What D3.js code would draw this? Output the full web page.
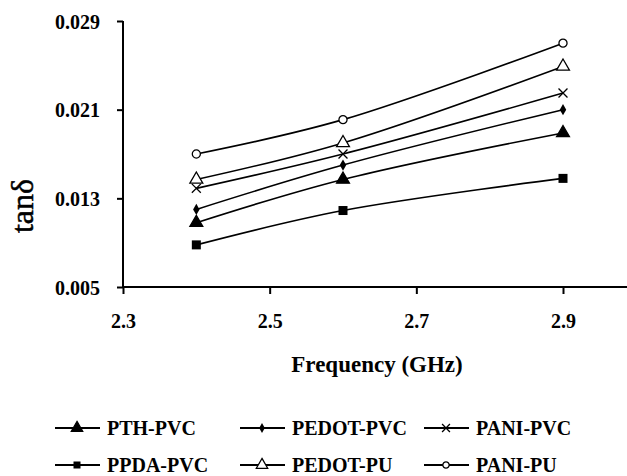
<!DOCTYPE html>
<html>
<head>
<meta charset="utf-8">
<script src="https://cdn.jsdelivr.net/npm/d3@7"></script>
<style>
  html, body { margin: 0; padding: 0; background: #fff; }
  svg { display: block; }
  text { font-family: "Liberation Serif", "Times New Roman", serif; fill: #000; }
  .bold { font-weight: bold; }
  .tick-label { font-size: 20px; }
  .legend-label { font-size: 20px; }
</style>
</head>
<body>
<div id="chart"></div>
<script>
// Frequencies measured (GHz)
const frequencies = [2.4, 2.6, 2.9];

// tan delta per sample
const pthPvc   = [0.0108, 0.0147, 0.0189];
const pedotPvc = [0.0120, 0.0160, 0.0210];
const paniPvc  = [0.0139, 0.0170, 0.0225];
const ppdaPvc  = [0.0088, 0.0119, 0.0148];
const pedotPu  = [0.0147, 0.0180, 0.0249];
const paniPu   = [0.0170, 0.0201, 0.0270];

const seriesNames = ['PTH-PVC', 'PEDOT-PVC', 'PANI-PVC', 'PPDA-PVC', 'PEDOT-PU', 'PANI-PU'];
const seriesValues = [pthPvc, pedotPvc, paniPvc, ppdaPvc, pedotPu, paniPu];
const seriesMarkers = ['triangle', 'diamond', 'cross', 'square', 'triangleOpen', 'circleOpen'];

const xTicks = [2.3, 2.5, 2.7, 2.9];
const yTicks = [0.005, 0.013, 0.021, 0.029];

const width = 627, height = 476;

const svg = d3.select('#chart').append('svg')
  .attr('width', width)
  .attr('height', height);

// x: 2.3 sits on the y axis at 123, 2.9 at 563
const x = d3.scaleLinear().domain([2.3, 2.9]).range([123, 563]);
const y = d3.scaleLinear().domain([0.005, 0.029]).range([287, 21]);

// Axes: ticks cross the axis line, x axis runs to the right edge
const xAxis = svg.append('g')
  .attr('transform', `translate(0,${y(0.005)})`)
  .call(d3.axisBottom(x).tickValues(xTicks).tickSize(0).tickFormat(d3.format('.1f')))
  .attr('font-family', null).attr('font-size', null);
xAxis.select('.domain').remove();
xAxis.selectAll('.tick text').attr('class', 'tick-label bold').attr('dy', 0).attr('y', 41);
xAxis.append('line')
  .attr('x1', x(2.3)).attr('x2', width)
  .attr('stroke', '#000').attr('stroke-width', 2);
xAxis.selectAll('.tick').append('line')
  .attr('y1', 0).attr('y2', 7).attr('stroke', '#000').attr('stroke-width', 2);

const yAxis = svg.append('g')
  .attr('transform', `translate(${x(2.3)},0)`)
  .call(d3.axisLeft(y).tickValues(yTicks).tickSize(0).tickFormat(d3.format('.3f')))
  .attr('font-family', null).attr('font-size', null);
yAxis.select('.domain').remove();
yAxis.selectAll('.tick text').attr('class', 'tick-label bold').attr('x', -23).attr('dy', '0.35em');
yAxis.append('line')
  .attr('y1', y(0.029)).attr('y2', y(0.005))
  .attr('stroke', '#000').attr('stroke-width', 2);
yAxis.selectAll('.tick').append('line')
  .attr('x1', -6).attr('x2', 0).attr('stroke', '#000').attr('stroke-width', 2);

// Axis titles
svg.append('text')
  .attr('class', 'bold')
  .attr('x', 377).attr('y', 372)
  .attr('text-anchor', 'middle')
  .style('font-size', '23px')
  .text('Frequency (GHz)');

svg.append('text')
  .attr('transform', 'translate(33,206) rotate(-90)')
  .attr('text-anchor', 'middle')
  .style('font-size', '32px')
  .style('stroke', '#000').style('stroke-width', '0.5px')
  .text('tanδ');

// Marker drawing shared by plot and legend
function drawMarker(g, type, s) {
  if (type === 'triangle' || type === 'triangleOpen') {
    g.append('path')
      .attr('d', d3.symbol().type(d3.symbolTriangle).size(s * 8)())
      .attr('fill', type === 'triangle' ? '#000' : '#fff')
      .attr('stroke', '#000').attr('stroke-width', 1.3);
  } else if (type === 'square') {
    g.append('rect')
      .attr('x', -s * 0.5).attr('y', -s * 0.5)
      .attr('width', s).attr('height', s)
      .attr('fill', '#000');
  } else if (type === 'diamond') {
    g.append('path')
      .attr('d', d3.symbol().type(d3.symbolDiamond).size(s * 4)())
      .attr('fill', '#000');
  } else if (type === 'cross') {
    g.append('path')
      .attr('d', d3.symbol().type(d3.symbolX).size(s * 6)())
      .attr('fill', 'none').attr('stroke', '#000').attr('stroke-width', 1.3);
  } else if (type === 'circleOpen') {
    g.append('circle').attr('r', s * 0.45)
      .attr('fill', '#fff').attr('stroke', '#000').attr('stroke-width', 1.3);
  }
}

const line = d3.line()
  .x((d, i) => x(frequencies[i]))
  .y(d => y(d))
  .curve(d3.curveCatmullRom.alpha(0.5));

const plot = svg.append('g');
seriesValues.forEach((vals) => {
  plot.append('path')
    .datum(vals)
    .attr('d', line)
    .attr('fill', 'none')
    .attr('stroke', '#000')
    .attr('stroke-width', 1.6);
});
seriesValues.forEach((vals, si) => {
  vals.forEach((v, i) => {
    const g = plot.append('g').attr('transform', `translate(${x(frequencies[i])},${y(v)})`);
    drawMarker(g, seriesMarkers[si], 9);
  });
});

// Legend: two rows of three
const legendCols = [55, 240, 424];
const legendRows = [428, 465];
const legend = svg.append('g');
seriesNames.forEach((name, i) => {
  const lx = legendCols[i % 3];
  const ly = legendRows[Math.floor(i / 3)];
  const g = legend.append('g').attr('transform', `translate(${lx},${ly})`);
  g.append('line').attr('x1', 0).attr('x2', 45)
    .attr('stroke', '#000').attr('stroke-width', 2);
  const m = g.append('g').attr('transform', 'translate(22,0)');
  drawMarker(m, seriesMarkers[i], 7);
  g.append('text')
    .attr('class', 'legend-label bold')
    .attr('x', 52).attr('y', 7)
    .text(name);
});
</script>
</body>
</html>
